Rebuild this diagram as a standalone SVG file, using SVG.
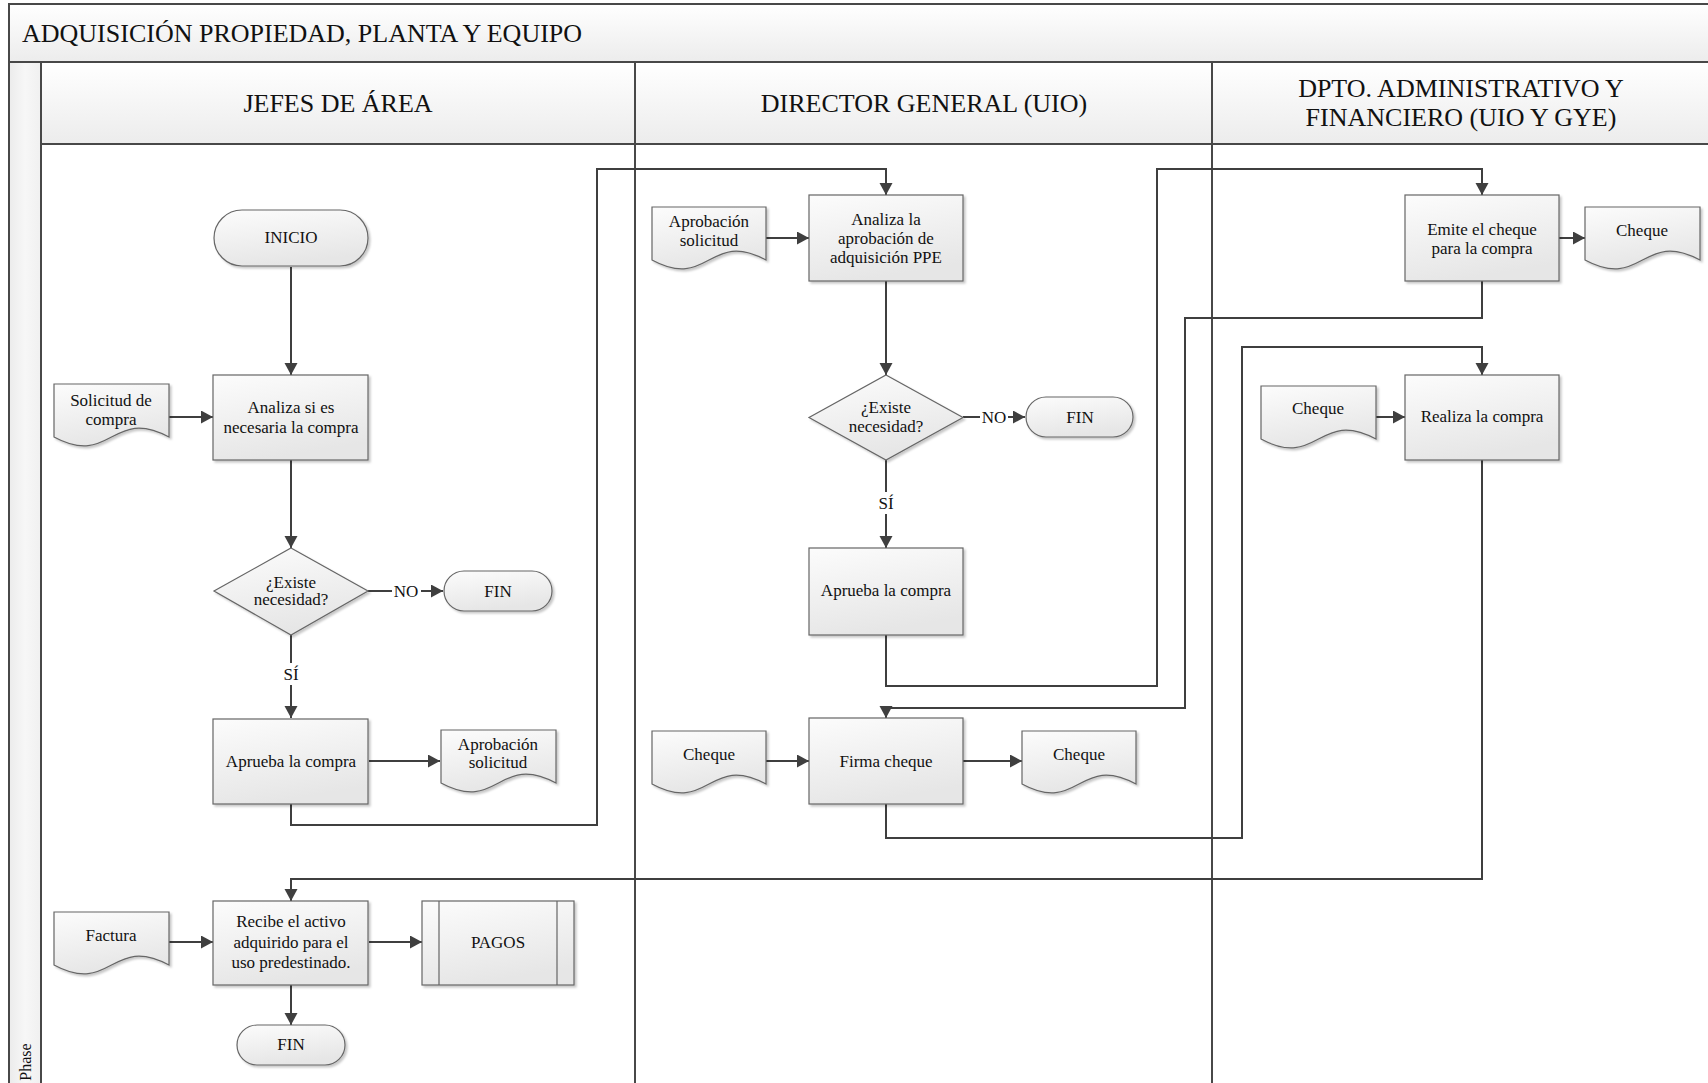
<svg xmlns="http://www.w3.org/2000/svg" width="1708" height="1083" viewBox="0 0 1708 1083">
<defs>
<linearGradient id="hdr" x1="0" y1="0" x2="0" y2="1"><stop offset="0" stop-color="#ffffff"/><stop offset="1" stop-color="#ececec"/></linearGradient>
<linearGradient id="phase" x1="0" y1="0" x2="1" y2="0"><stop offset="0" stop-color="#ebebeb"/><stop offset="0.5" stop-color="#f7f7f7"/><stop offset="1" stop-color="#f0f0f0"/></linearGradient>
<linearGradient id="nf" x1="0" y1="0" x2="0.3" y2="1"><stop offset="0" stop-color="#fcfcfc"/><stop offset="1" stop-color="#e6e6e6"/></linearGradient>
<filter id="sh" x="-10%" y="-10%" width="130%" height="130%"><feDropShadow dx="2" dy="2" stdDeviation="1.2" flood-color="#000" flood-opacity="0.22"/></filter>
<marker id="ar" markerUnits="userSpaceOnUse" markerWidth="13" markerHeight="14" refX="12" refY="6.5" orient="auto"><path d="M0,0 L12,6.5 L0,13 Z" fill="#3f3f3f"/></marker>
</defs>
<style>
.t{font-family:"Liberation Serif","Times New Roman",serif;font-size:17px;fill:#111;text-anchor:middle}
.h{font-family:"Liberation Serif","Times New Roman",serif;font-size:26px;fill:#111;text-anchor:middle}
.n{fill:url(#nf);stroke:#666;stroke-width:1.2;filter:url(#sh)}
.c{fill:none;stroke:#3f3f3f;stroke-width:2;marker-end:url(#ar)}
.ln{stroke:#484848;stroke-width:2;fill:none}
</style>
<rect x="0" y="0" width="1708" height="1083" fill="#ffffff"/>
<g id="frame">
<rect x="9" y="4" width="1720" height="58" fill="url(#hdr)"/>
<rect x="9" y="62" width="32" height="1030" fill="url(#phase)"/>
<rect x="41" y="62" width="1690" height="82" fill="url(#hdr)"/>
<path class="ln" d="M9,1090 V4 H1720 M9,62 H1720 M41,144 H1720 M41,62 V1090 M635,62 V1090 M1212,62 V1090"/>
<text x="22" y="42" style="font-family:'Liberation Serif','Times New Roman',serif;font-size:26px;fill:#111">ADQUISICIÓN PROPIEDAD, PLANTA Y EQUIPO</text>
<text class="h" x="338" y="112">JEFES DE ÁREA</text>
<text class="h" x="924" y="112">DIRECTOR GENERAL (UIO)</text>
<text class="h" x="1461" y="97">DPTO. ADMINISTRATIVO Y</text>
<text class="h" x="1461" y="126">FINANCIERO (UIO Y GYE)</text>
<text transform="translate(31,1062) rotate(-90)" style="font-family:'Liberation Serif','Times New Roman',serif;font-size:16px;fill:#111;text-anchor:middle">Phase</text>
</g>
<g id="connectors">
<path class="c" d="M291,267 V375"/>
<path class="c" d="M169,417 H213"/>
<path class="c" d="M291,460 V548"/>
<path class="c" d="M368,591 H443"/>
<path class="c" d="M291,635 V718"/>
<path class="c" d="M369,761 H440"/>
<path class="c" d="M291,804 V825 H597 V169 H886 V195"/>
<path class="c" d="M766,238 H809"/>
<path class="c" d="M886,281 V375"/>
<path class="c" d="M963,417 H1025"/>
<path class="c" d="M886,460 V548"/>
<path class="c" d="M886,635 V686 H1157 V169 H1482 V195"/>
<path class="c" d="M1559,238 H1585"/>
<path class="c" d="M1482,281 V318 H1185 V708 H886 V718"/>
<path class="c" d="M766,761 H809"/>
<path class="c" d="M963,761 H1022"/>
<path class="c" d="M886,804 V838 H1242 V347 H1482 V375"/>
<path class="c" d="M1376,417 H1405"/>
<path class="c" d="M1482,460 V879 H291 V901"/>
<path class="c" d="M169,942 H213"/>
<path class="c" d="M369,942 H422"/>
<path class="c" d="M291,985 V1025"/>
<rect x="392" y="581" width="29" height="20" fill="#fff"/>
<text class="t" x="406" y="597">NO</text>
<rect x="280" y="663" width="22" height="22" fill="#fff"/>
<text class="t" x="291" y="680">SÍ</text>
<rect x="980" y="407" width="28" height="20" fill="#fff"/>
<text class="t" x="994" y="423">NO</text>
<rect x="875" y="492" width="22" height="22" fill="#fff"/>
<text class="t" x="886" y="509">SÍ</text>
</g>
<g id="inicio"><rect class="n" x="214" y="210" width="154" height="56" rx="28"/><text class="t" x="291" y="243">INICIO</text></g>
<g id="doc-solicitud"><path class="n" d="M54,384 H169 V437 C111.5,406 111.5,468 54,437 Z"/><text class="t" x="111" y="406">Solicitud de</text><text class="t" x="111" y="425">compra</text></g>
<g id="analiza-necesaria"><rect class="n" x="213" y="375" width="155" height="85"/><text class="t" x="291" y="413">Analiza si es</text><text class="t" x="291" y="433">necesaria la compra</text></g>
<g id="decision-1"><path class="n" d="M291,548 L368,591 L291,635 L214,591 Z"/><text class="t" x="291" y="588">¿Existe</text><text class="t" x="291" y="605">necesidad?</text></g>
<g id="fin-1"><rect class="n" x="444" y="571" width="108" height="40" rx="20"/><text class="t" x="498" y="597">FIN</text></g>
<g id="aprueba-1"><rect class="n" x="213" y="719" width="155" height="85"/><text class="t" x="291" y="767">Aprueba la compra</text></g>
<g id="doc-aprobacion-1"><path class="n" d="M441,730 H556 V783 C498.5,752 498.5,814 441,783 Z"/><text class="t" x="498" y="750">Aprobación</text><text class="t" x="498" y="768">solicitud</text></g>
<g id="doc-factura"><path class="n" d="M54,912 H169 V965 C111.5,934 111.5,996 54,965 Z"/><text class="t" x="111" y="941">Factura</text></g>
<g id="recibe"><rect class="n" x="213" y="901" width="155" height="84"/><text class="t" x="291" y="927">Recibe el activo</text><text class="t" x="291" y="948">adquirido para el</text><text class="t" x="291" y="968">uso predestinado.</text></g>
<g id="pagos"><rect class="n" x="422" y="901" width="152" height="84"/><path d="M439,901 V985 M557,901 V985" stroke="#666" stroke-width="1.2"/><text class="t" x="498" y="948">PAGOS</text></g>
<g id="fin-3"><rect class="n" x="237" y="1025" width="108" height="40" rx="20"/><text class="t" x="291" y="1050">FIN</text></g>
<g id="doc-aprobacion-2"><path class="n" d="M652,207 H766 V260 C709,229 709,291 652,260 Z"/><text class="t" x="709" y="227">Aprobación</text><text class="t" x="709" y="246">solicitud</text></g>
<g id="analiza-ppe"><rect class="n" x="809" y="195" width="154" height="86"/><text class="t" x="886" y="225">Analiza la</text><text class="t" x="886" y="244">aprobación de</text><text class="t" x="886" y="263">adquisición PPE</text></g>
<g id="decision-2"><path class="n" d="M886,375 L963,417.5 L886,460 L809,417.5 Z"/><text class="t" x="886" y="413">¿Existe</text><text class="t" x="886" y="432">necesidad?</text></g>
<g id="fin-2"><rect class="n" x="1026" y="397" width="107" height="40" rx="20"/><text class="t" x="1080" y="423">FIN</text></g>
<g id="aprueba-2"><rect class="n" x="809" y="548" width="154" height="87"/><text class="t" x="886" y="596">Aprueba la compra</text></g>
<g id="doc-cheque-2a"><path class="n" d="M652,731 H766 V784 C709,753 709,815 652,784 Z"/><text class="t" x="709" y="760">Cheque</text></g>
<g id="firma"><rect class="n" x="809" y="718" width="154" height="86"/><text class="t" x="886" y="767">Firma cheque</text></g>
<g id="doc-cheque-2b"><path class="n" d="M1022,731 H1136 V784 C1079,753 1079,815 1022,784 Z"/><text class="t" x="1079" y="760">Cheque</text></g>
<g id="emite"><rect class="n" x="1405" y="195" width="154" height="86"/><text class="t" x="1482" y="235">Emite el cheque</text><text class="t" x="1482" y="254">para la compra</text></g>
<g id="doc-cheque-3a"><path class="n" d="M1585,207 H1700 V260 C1642.5,229 1642.5,291 1585,260 Z"/><text class="t" x="1642" y="236">Cheque</text></g>
<g id="doc-cheque-3b"><path class="n" d="M1261,386 H1376 V439 C1318.5,408 1318.5,470 1261,439 Z"/><text class="t" x="1318" y="414">Cheque</text></g>
<g id="realiza"><rect class="n" x="1405" y="375" width="154" height="85"/><text class="t" x="1482" y="422">Realiza la compra</text></g>
</svg>
